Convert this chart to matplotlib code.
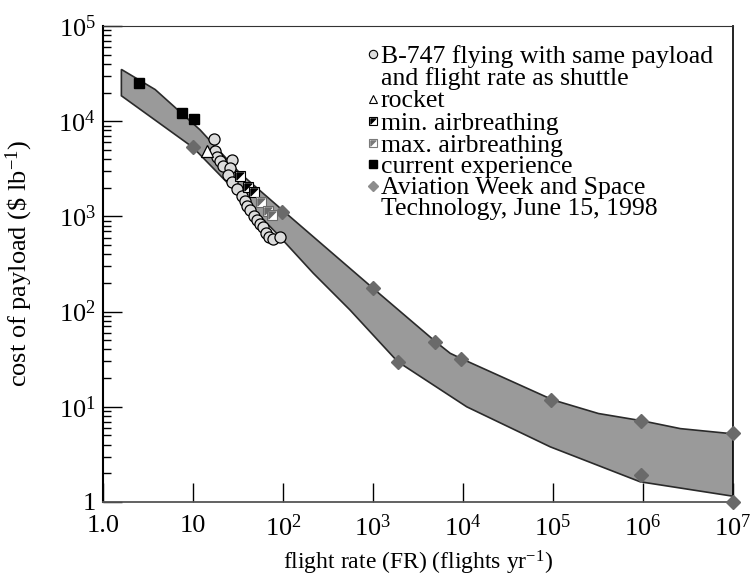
import numpy as np
import matplotlib
matplotlib.use("Agg")
import matplotlib.pyplot as plt
from matplotlib.path import Path

plt.rcParams['font.family'] = ['Liberation Serif', 'DejaVu Serif']
plt.rcParams['mathtext.fontset'] = 'custom'
plt.rcParams['mathtext.rm'] = 'Liberation Serif'
plt.rcParams['mathtext.default'] = 'regular'

# band limits (upper and lower edge of the shaded region)
band_upper_x = [1.6, 3.8, 12, 33, 100, 1000, 5000, 7200, 1e4, 1e5, 3.2e5, 1e6, 2.6e6, 1e7]
band_upper_y = [3.5e4, 2.15e4, 8100, 2860, 1150, 176, 48, 36.5, 31.5, 11.8, 8.5, 7.1, 5.9, 5.2]
band_lower_x = [1.6, 7.5, 10, 85, 217, 555, 1880, 1.1e4, 9.3e4, 9.3e5, 1e7]
band_lower_y = [1.85e4, 6450, 5300, 664, 253, 104, 29.8, 10, 3.8, 1.63, 1.15]

# B-747 flying with same payload and flight rate as shuttle
b747_x = [17.2, 17.6, 18.6, 20.0, 21.7, 26.9, 25.8, 24.3, 26.9, 30.6, 34.7, 37.8,
          40.2, 43.0, 47.6, 51.0, 55.0, 60.4, 64.1, 70.4, 76.7, 92.6]
b747_y = [6550, 4860, 4240, 3850, 3380, 3910, 3200, 2720, 2320, 1940, 1640, 1460,
          1290, 1170, 1020, 916, 840, 768, 675, 612, 579, 603]

rocket_x = [14.4]
rocket_y = [4900]

min_air_x = [33, 41, 47.6]
min_air_y = [2660, 2050, 1820]

max_air_x = [56.5, 68.7, 74.8]
max_air_y = [1430, 1150, 1035]

current_x = [2.5, 7.5, 10.3]
current_y = [2.54e4, 1.23e4, 1.05e4]

avweek_x = [10, 97, 1000, 1880, 4900, 9400, 9.5e4, 9.4e5, 9.4e5, 1e7, 1e7]
avweek_y = [5300, 1120, 176, 29.8, 48, 31.8, 11.8, 7.15, 1.92, 5.26, 1.0]

x_ticks = [1, 10, 1e2, 1e3, 1e4, 1e5, 1e6, 1e7]
x_labels = ['1.0', '10', '$10^2$', '$10^3$', '$10^4$', '$10^5$', '$10^6$', '$10^7$']
y_ticks = [1, 10, 1e2, 1e3, 1e4, 1e5]
y_labels = ['1', '$10^1$', '$10^2$', '$10^3$', '$10^4$', '$10^5$']

# diagonal half-square markers
tri_ul = Path([(-1, 1), (1, 1), (-1, -1), (-1, 1)])


def half_square(ax, x, y, color, ms, transform=None, **kw):
    kwargs = dict(linestyle='none', **kw)
    if transform is not None:
        kwargs['transform'] = transform
    ax.plot(x, y, marker='s', ms=ms, mfc='white', mec=color, mew=0.8, **kwargs)
    ax.plot(x, y, marker=tri_ul, ms=ms * 0.72, mfc=color, mec=color, mew=0.6, **kwargs)


fig = plt.figure(figsize=(7.51, 5.78), dpi=100)
ax = fig.add_axes([103 / 751, 76 / 578, 630 / 751, 476 / 578])
ax.set_xscale('log')
ax.set_yscale('log')
ax.set_xlim(1, 1e7)
ax.set_ylim(1, 1e5)

# shaded band
poly_x = band_upper_x + band_lower_x[::-1]
poly_y = band_upper_y + band_lower_y[::-1]
ax.fill(poly_x, poly_y, facecolor='#9a9a9a', edgecolor='#2a2a2a', lw=1.2, zorder=2)

ax.plot(avweek_x, avweek_y, 'D', ms=7, color='#6a6a6a', zorder=4, clip_on=False)
ax.plot(current_x, current_y, 's', ms=7.5, color='black', zorder=4)
ax.plot(b747_x, b747_y, 'o', ms=8, mfc='#dcdcdc', mec='black', mew=0.9, zorder=5)
ax.plot(rocket_x, rocket_y, '^', ms=8, mfc='white', mec='black', mew=0.9, zorder=5)
half_square(ax, min_air_x, min_air_y, 'black', 7.5, zorder=6)
half_square(ax, max_air_x, max_air_y, '#6a6a6a', 7.5, zorder=6)

# axes styling
ax.set_xticks(x_ticks)
ax.set_xticklabels(x_labels)
ax.set_yticks(y_ticks)
ax.set_yticklabels(y_labels)
ax.tick_params(which='major', direction='in', length=14, width=1, labelsize=19, pad=9)
ax.tick_params(which='minor', direction='in', length=6, width=1)
ax.tick_params(axis='x', which='both', top=False)
ax.tick_params(axis='y', which='both', right=False)
ax.tick_params(axis='y', which='major', pad=5)
ax.spines['left'].set_linewidth(1.5)
ax.spines['bottom'].set_color('#555555')
ax.spines['bottom'].set_linewidth(1.3)
ax.spines['top'].set_color('#333333')
ax.spines['right'].set_color('#111111')
ax.spines['right'].set_linewidth(1.3)

ax.set_xlabel('flight rate (FR) (flights yr$^{-1}$)', fontsize=17)
ax.set_ylabel('cost of payload (\\$ lb$^{-1}$)', fontsize=19)
ax.xaxis.set_label_coords(0.5, -0.098)
ax.yaxis.set_label_coords(-0.108, 0.5)

# legend drawn by hand (wrapped lines sit close together)
lx, tx = 0.4286, 0.441
rows = [0.941, 0.895, 0.847, 0.800, 0.754, 0.710, 0.664, 0.620]
texts = ['B-747 flying with same payload', 'and flight rate as shuttle', 'rocket',
         'min. airbreathing', 'max. airbreathing', 'current experience',
         'Aviation Week and Space', 'Technology, June 15, 1998']
for r, t in zip(rows, texts):
    ax.text(tx, r, t, transform=ax.transAxes, fontsize=18.5, va='center_baseline', ha='left')
tr = ax.transAxes
ax.plot([lx], [rows[0]], 'o', ms=6, mfc='#dcdcdc', mec='black', mew=0.8, transform=tr)
ax.plot([lx], [rows[2]], '^', ms=6, mfc='white', mec='black', mew=0.8, transform=tr)
half_square(ax, [lx], [rows[3]], 'black', 5.5, transform=tr)
half_square(ax, [lx], [rows[4]], '#7a7a7a', 5.5, transform=tr)
ax.plot([lx], [rows[5]], 's', ms=6, color='black', transform=tr)
ax.plot([lx], [rows[6]], 'D', ms=5.5, color='#8c8c8c', transform=tr)

fig.savefig('out.png', dpi=100)
